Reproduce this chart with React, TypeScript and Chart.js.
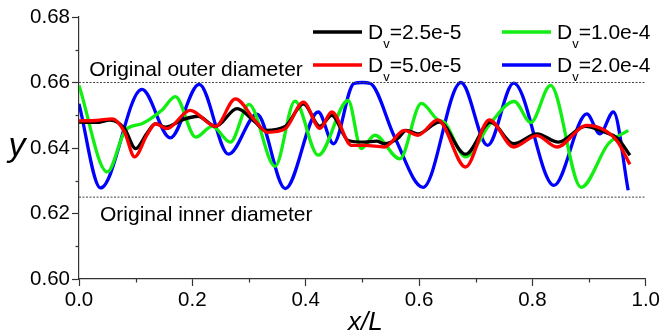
import React, { useEffect, useRef } from "react";
import { Chart, registerables } from "chart.js";
Chart.register(...registerables);

// ---- data ----
const xTickValues = [0, 0.2, 0.4, 0.6, 0.8, 1.0];
const yTickValues = [0.6, 0.62, 0.64, 0.66, 0.68];
const xMinorTicks = [0.1, 0.3, 0.5, 0.7, 0.9];
const yMinorTicks = [0.61, 0.63, 0.65, 0.67];

const outerDiameter = 0.66;
const innerDiameter = 0.625;
const outerLabel = "Original outer diameter";
const innerLabel = "Original inner diameter";

// D_v = 2.5e-5 (black)
const xDv25 = [0, 0.03, 0.055, 0.08, 0.1, 0.12, 0.135, 0.152, 0.187, 0.21, 0.241, 0.279, 0.31, 0.329, 0.364, 0.396, 0.425, 0.446, 0.475, 0.504, 0.525, 0.539, 0.563, 0.577, 0.598, 0.636, 0.682, 0.726, 0.767, 0.808, 0.846, 0.893, 0.928, 0.95, 0.972];
const yDv25 = [0.6479, 0.6478, 0.6485, 0.646, 0.6398, 0.6445, 0.6474, 0.6464, 0.6489, 0.6497, 0.6466, 0.652, 0.648, 0.6454, 0.6466, 0.6535, 0.6466, 0.65, 0.6423, 0.6418, 0.6421, 0.6413, 0.643, 0.6454, 0.6443, 0.6479, 0.6381, 0.6479, 0.6413, 0.6443, 0.6418, 0.6466, 0.6448, 0.643, 0.6378];

// D_v = 5.0e-5 (red)
const xDv50 = [0, 0.03, 0.059, 0.08, 0.098, 0.12, 0.135, 0.155, 0.196, 0.241, 0.276, 0.31, 0.332, 0.364, 0.396, 0.425, 0.446, 0.481, 0.504, 0.539, 0.574, 0.598, 0.633, 0.682, 0.724, 0.767, 0.808, 0.843, 0.896, 0.928, 0.95, 0.972];
const yDv50 = [0.6483, 0.6484, 0.6489, 0.645, 0.6373, 0.644, 0.6474, 0.6459, 0.6515, 0.6466, 0.655, 0.6485, 0.6448, 0.6459, 0.654, 0.646, 0.651, 0.6408, 0.6408, 0.6403, 0.6454, 0.6439, 0.6486, 0.6342, 0.6486, 0.6403, 0.6438, 0.6403, 0.6469, 0.6454, 0.642, 0.635];

// D_v = 1.0e-4 (green)
const xDv100 = [0, 0.05, 0.082, 0.111, 0.146, 0.17, 0.206, 0.235, 0.267, 0.3, 0.346, 0.381, 0.422, 0.475, 0.498, 0.522, 0.566, 0.604, 0.633, 0.645, 0.682, 0.726, 0.768, 0.797, 0.832, 0.886, 0.934, 0.969];
const yDv100 = [0.6591, 0.6327, 0.6454, 0.6474, 0.6515, 0.6557, 0.6433, 0.6466, 0.6418, 0.6533, 0.6344, 0.6543, 0.6378, 0.6545, 0.6398, 0.6439, 0.6367, 0.6536, 0.6486, 0.6478, 0.6373, 0.6476, 0.6542, 0.6478, 0.6591, 0.628, 0.6413, 0.6454];

// D_v = 2.0e-4 (blue)
const xDv200 = [0, 0.038, 0.111, 0.161, 0.212, 0.264, 0.314, 0.364, 0.422, 0.449, 0.485, 0.5, 0.514, 0.557, 0.607, 0.674, 0.721, 0.767, 0.838, 0.896, 0.919, 0.943, 0.969];
const yDv200 = [0.6535, 0.6278, 0.6579, 0.6431, 0.6594, 0.6381, 0.6503, 0.6276, 0.651, 0.6413, 0.6597, 0.66, 0.6597, 0.6433, 0.628, 0.66, 0.6408, 0.6598, 0.6286, 0.6504, 0.6443, 0.651, 0.6271];

const seriesLabels = ["2.5e-5", "5.0e-5", "1.0e-4", "2.0e-4"];
const seriesColors = ["#000000", "#ff0000", "#11ee11", "#0000ff"];
const seriesX = [xDv25, xDv50, xDv100, xDv200];
const seriesY = [yDv25, yDv50, yDv100, yDv200];

const FONT = "'Liberation Sans', Arial, Helvetica, sans-serif";

// legend layout: [column, row] per series
const legendSlots = [
  [0, 0],
  [0, 1],
  [1, 0],
  [1, 1],
];

const overlayPlugin = {
  id: "overlay",
  afterDraw(chart: any) {
    const ctx = chart.ctx;
    const xs = chart.scales.x;
    const ys = chart.scales.y;
    const area = chart.chartArea;
    ctx.save();
    // minor ticks
    ctx.strokeStyle = "#333";
    ctx.lineWidth = 1.2;
    yMinorTicks.forEach((v) => {
      const py = Math.round(ys.getPixelForValue(v)) + 0.5;
      ctx.beginPath();
      ctx.moveTo(area.left - 3.5, py);
      ctx.lineTo(area.left, py);
      ctx.stroke();
    });
    xMinorTicks.forEach((v) => {
      const px = Math.round(xs.getPixelForValue(v)) + 0.5;
      ctx.beginPath();
      ctx.moveTo(px, area.bottom);
      ctx.lineTo(px, area.bottom + 3.5);
      ctx.stroke();
    });

    // reference line labels
    ctx.fillStyle = "#000";
    ctx.font = `21px ${FONT}`;
    ctx.textAlign = "left";
    ctx.textBaseline = "alphabetic";
    ctx.fillText(outerLabel, xs.getPixelForValue(0.018), ys.getPixelForValue(outerDiameter) - 6.6);
    ctx.fillText(innerLabel, xs.getPixelForValue(0.037), ys.getPixelForValue(innerDiameter) + 24);

    // legend
    const colLineX = [313, 502];
    const rowY = [32, 65];
    legendSlots.forEach((slot, i) => {
      const [c, r] = slot;
      const x0 = colLineX[c];
      const y0 = rowY[r];
      ctx.strokeStyle = seriesColors[i];
      ctx.lineWidth = 3.5;
      ctx.beginPath();
      ctx.moveTo(x0, y0);
      ctx.lineTo(x0 + 49, y0);
      ctx.stroke();
      let tx = x0 + 55;
      const base = y0 + 6.5;
      ctx.fillStyle = "#000";
      ctx.font = `21px ${FONT}`;
      ctx.fillText("D", tx, base);
      tx += ctx.measureText("D").width;
      ctx.font = `13px ${FONT}`;
      ctx.fillText("v", tx, base + 9);
      tx += ctx.measureText("v").width;
      ctx.font = `21px ${FONT}`;
      ctx.fillText("=" + seriesLabels[i], tx, base);
    });

    // axis titles
    ctx.font = `italic 34px ${FONT}`;
    ctx.textAlign = "center";
    ctx.fillText("y", 17, 156);
    ctx.font = `italic 26px ${FONT}`;
    ctx.fillText("x/L", (area.left + area.right) / 2 + 3, 330);
    ctx.restore();
  },
};

export default function App() {
  const ref = useRef<HTMLCanvasElement | null>(null);
  useEffect(() => {
    if (!ref.current) return;
    const datasets: any[] = [];
    datasets.push({
      label: "outer",
      data: [
        { x: 0, y: outerDiameter },
        { x: 1, y: outerDiameter },
      ],
      borderColor: "#444",
      borderWidth: 1,
      borderDash: [2, 1.5],
      pointRadius: 0,
    });
    datasets.push({
      label: "inner",
      data: [
        { x: 0, y: innerDiameter },
        { x: 1, y: innerDiameter },
      ],
      borderColor: "#444",
      borderWidth: 1,
      borderDash: [2, 1.5],
      pointRadius: 0,
    });
    const order = [1, 0, 2, 3];
    order.forEach((i) => {
      datasets.push({
        label: "Dv=" + seriesLabels[i],
        data: seriesX[i].map((x, k) => ({ x, y: seriesY[i][k] })),
        borderColor: seriesColors[i],
        borderWidth: 3.3,
        pointRadius: 0,
        cubicInterpolationMode: "monotone",
        fill: false,
      });
    });
    const chart = new Chart(ref.current, {
      type: "line",
      data: { datasets },
      options: {
        animation: false,
        responsive: false,
        devicePixelRatio: 1,
        layout: { padding: { left: 0, right: 12, top: 17, bottom: 0 } },
        plugins: { legend: { display: false }, tooltip: { enabled: false } },
        scales: {
          x: {
            type: "linear",
            min: 0,
            max: 1,
            afterFit: (s: any) => {
              s.height = 55;
            },
            afterBuildTicks: (s: any) => {
              s.ticks = xTickValues.map((v) => ({ value: v }));
            },
            ticks: {
              callback: (v: any) => Number(v).toFixed(1),
              color: "#000",
              font: { family: FONT, size: 20.5 },
              padding: 2,
              maxRotation: 0,
            },
            grid: {
              drawOnChartArea: false,
              drawTicks: true,
              tickLength: 7,
              tickColor: "#333",
              tickWidth: 1.2,
            },
            border: { display: true, color: "#333", width: 1.2 },
          },
          y: {
            type: "linear",
            min: 0.6,
            max: 0.68,
            afterFit: (s: any) => {
              s.width = 79;
            },
            afterBuildTicks: (s: any) => {
              s.ticks = yTickValues.map((v) => ({ value: v }));
            },
            ticks: {
              callback: (v: any) => Number(v).toFixed(2),
              color: "#000",
              font: { family: FONT, size: 20.5 },
              padding: 2,
            },
            grid: {
              drawOnChartArea: false,
              drawTicks: true,
              tickLength: 7,
              tickColor: "#333",
              tickWidth: 1.2,
            },
            border: { display: true, color: "#333", width: 1.2 },
          },
        },
      },
      plugins: [overlayPlugin],
    });
    return () => chart.destroy();
  }, []);
  return (
    <div style={{ position: "fixed", left: 0, top: 0, width: 662, height: 334, background: "#fff" }}>
      <canvas ref={ref} width={662} height={334} style={{ width: 662, height: 334, display: "block" }} />
    </div>
  );
}
